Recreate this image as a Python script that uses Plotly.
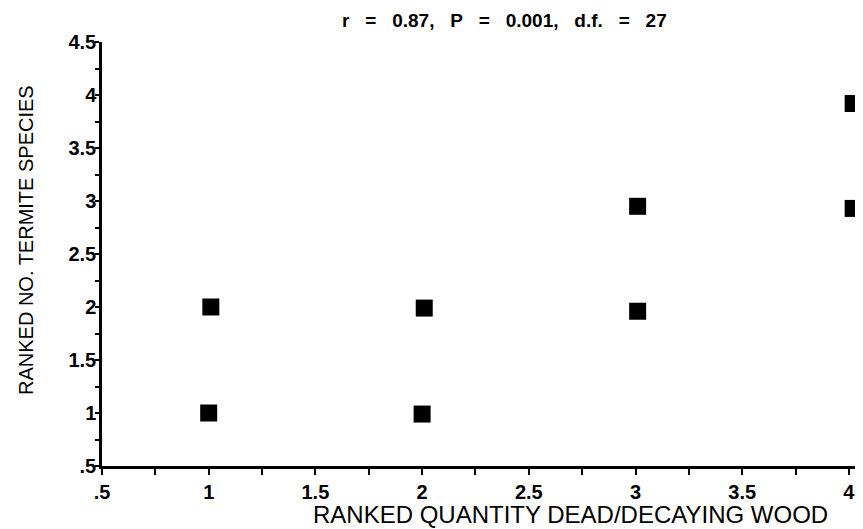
import plotly.graph_objects as go

x_rank_wood = [1, 1.01, 2, 2.01, 3.01, 3.01, 4.02, 4.02]
y_rank_species = [1.0, 2.0, 0.99, 1.99, 1.96, 2.95, 2.93, 3.92]

x_tick_vals = [0.5, 1, 1.5, 2, 2.5, 3, 3.5, 4]
x_tick_text = [".5", "1", "1.5", "2", "2.5", "3", "3.5", "4"]
y_tick_vals = [0.5, 1, 1.5, 2, 2.5, 3, 3.5, 4, 4.5]
y_tick_text = [".5", "1", "1.5", "2", "2.5", "3", "3.5", "4", "4.5"]

sp = "\u00a0\u00a0\u00a0"
title_text = f"r{sp}={sp}0.87,{sp}P{sp}={sp}0.001,{sp}d.f.{sp}={sp}27"
x_title = "RANKED QUANTITY DEAD/DECAYING WOOD"
y_title = "RANKED NO. TERMITE SPECIES"

FAM = "Liberation Sans, Arial, sans-serif"

# page body has an 8px margin, so the figure is drawn offset by (8, 8)
OFF = 8
W, H = 863 - OFF, 529 - OFF
pl, pr, pt, pb = 102 - OFF, 0, 42 - OFF, H - (466 - OFF)

fig = go.Figure()
fig.add_trace(go.Scatter(
    x=x_rank_wood, y=y_rank_species, mode="markers",
    marker=dict(symbol="square", size=17, color="black"),
    showlegend=False, cliponaxis=True,
))

font_tick = dict(family=FAM, size=20, color="black", weight="bold")
fig.update_layout(
    width=W, height=H,
    margin=dict(l=pl, r=pr, t=pt, b=pb, autoexpand=False),
    paper_bgcolor="white", plot_bgcolor="white",
    xaxis=dict(
        range=[0.5, 4.066], showgrid=False, zeroline=False, automargin=False,
        showline=True, linecolor="black", linewidth=2.5,
        ticks="outside", ticklen=6, tickwidth=2, tickcolor="black",
        tickvals=x_tick_vals, ticktext=x_tick_text,
        tickfont=font_tick,
        minor=dict(tickvals=[0.75, 1.25, 1.75, 2.25, 2.75, 3.25, 3.75], ticks="outside", ticklen=6, tickwidth=2, tickcolor="black"),
    ),
    yaxis=dict(
        range=[0.5, 4.5], showgrid=False, zeroline=False, automargin=False,
        showline=True, linecolor="black", linewidth=2.5,
        ticks="outside", ticklen=4, tickwidth=2, tickcolor="black",
        tickvals=y_tick_vals, ticktext=y_tick_text,
        tickfont=font_tick, ticklabelstandoff=-5,
        minor=dict(tickvals=[0.75, 1.25, 1.75, 2.25, 2.75, 3.25, 3.75, 4.25], ticks="outside", ticklen=4, tickwidth=2, tickcolor="black"),
    ),
)

pw, ph = W - pl - pr, H - pt - pb

def px_to_paper(px, py):
    # px, py in reference-image pixels
    return (px - OFF - pl) / pw, (H - pb - (py - OFF)) / ph

texts = [
    (title_text, (504, 20), dict(family=FAM, size=19, color="black", weight="bold"), 0),
    (x_title, (570, 514), dict(family=FAM, size=24, color="black"), 0),
    (y_title, (26, 240), dict(family=FAM, size=20, color="black"), -90),
]
for txt, (px, py), fnt, ang in texts:
    ax, ay = px_to_paper(px, py)
    fig.add_annotation(text=txt, xref="paper", yref="paper", x=ax, y=ay, showarrow=False,
                       xanchor="center", yanchor="middle", textangle=ang, font=fnt)

fig.write_html("out.html")
